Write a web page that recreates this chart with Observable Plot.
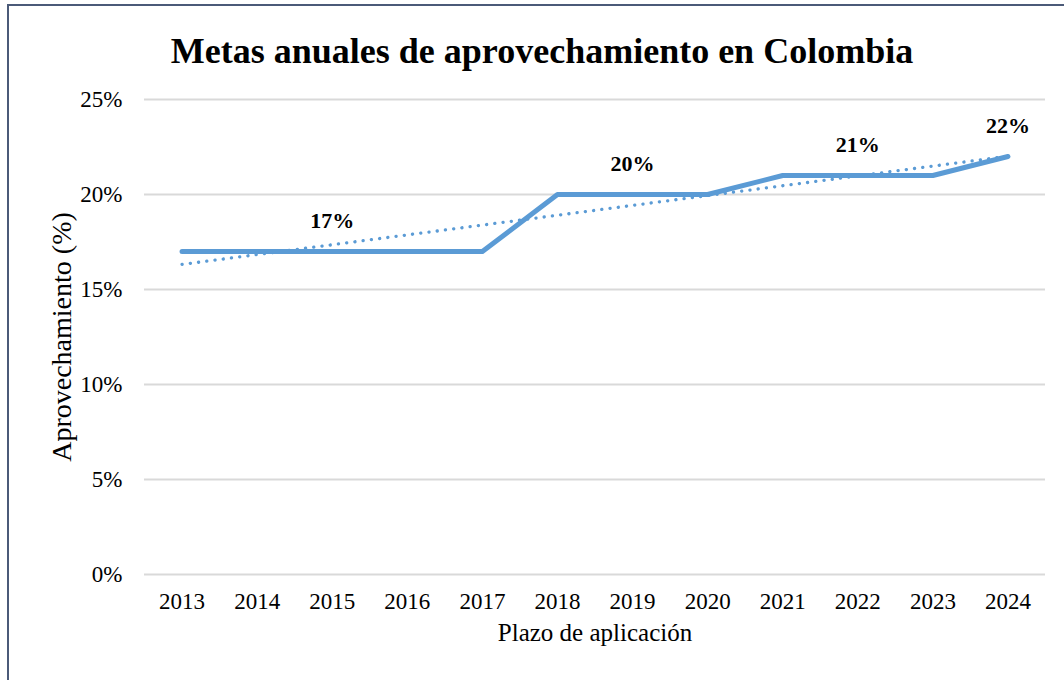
<!DOCTYPE html>
<html>
<head>
<meta charset="utf-8">
<script src="https://cdn.jsdelivr.net/npm/d3@7"></script>
<script src="https://cdn.jsdelivr.net/npm/@observablehq/plot@0.6"></script>
<style>
  html, body { margin: 0; padding: 0; background: #fff; }
  #wrap { position: relative; width: 1064px; height: 680px; overflow: hidden; }
  #frame { position: absolute; left: 7px; top: 4px; width: 1100px; height: 720px;
           border-top: 2px solid #4b5a78; border-left: 2px solid #4b5a78; box-sizing: border-box; }
  #chart { position: absolute; left: 0; top: 0; }
  #chart svg, #chart svg text { font-family: "Liberation Serif", "Times New Roman", serif !important; }
</style>
</head>
<body>
<div id="wrap"><div id="frame"></div><div id="chart"></div></div>
<script>
const titleText = "Metas anuales de aprovechamiento en Colombia";
const yTitle = "Aprovechamiento (%)";
const xTitle = "Plazo de aplicación";
const years = [2013, 2014, 2015, 2016, 2017, 2018, 2019, 2020, 2021, 2022, 2023, 2024];
const metas = [0.17, 0.17, 0.17, 0.17, 0.17, 0.20, 0.20, 0.20, 0.21, 0.21, 0.21, 0.22];
const labelYears = [2015, 2019, 2022, 2024];
const yTicks = [0, 0.05, 0.10, 0.15, 0.20, 0.25];

const data = years.map((year, i) => ({year, value: metas[i]}));
const pct = d3.format(".0%");
const labels = data.filter(d => labelYears.includes(d.year))
  .map(d => ({...d, text: pct(d.value)}));

const blue = "#5b9bd5";

const chart = Plot.plot({
  width: 1064,
  height: 680,
  marginTop: 99,
  marginBottom: 106,
  marginLeft: 144,
  marginRight: 19,
  style: {background: "transparent", color: "#000"},
  x: {type: "linear", domain: [2012.5, 2024.5]},
  y: {domain: [0, 0.25]},
  marks: [
    Plot.gridY(yTicks, {stroke: "#d9d9d9", strokeOpacity: 1, strokeWidth: 2}),
    Plot.axisY(yTicks, {tickSize: 0, tickPadding: 22, fontSize: 23, tickFormat: pct, label: null}),
    Plot.axisX(years, {tickSize: 0, tickPadding: 18, fontSize: 23, tickFormat: d3.format("d"), label: null}),
    Plot.linearRegressionY(data, {x: "year", y: "value", ci: 0, stroke: blue, strokeWidth: 3.3,
      strokeDasharray: "0.1 8.2", strokeLinecap: "round"}),
    Plot.line(data, {x: "year", y: "value", stroke: blue, strokeWidth: 5, strokeLinejoin: "round", strokeLinecap: "round"}),
    Plot.text(labels, {x: "year", y: "value", text: "text", dy: -31, fontSize: 22, fontWeight: "bold", fill: "#000"}),
    Plot.text([titleText], {frameAnchor: "top", dx: -53, dy: -62, fontSize: 36, fontWeight: "bold", fill: "#000"}),
    Plot.text([yTitle], {frameAnchor: "left", textAnchor: "middle", dx: -82, rotate: -90, fontSize: 28, fill: "#000"}),
    Plot.text([xTitle], {frameAnchor: "bottom", dy: 66, fontSize: 25, fill: "#000"})
  ]
});
document.getElementById("chart").appendChild(chart);
</script>
</body>
</html>
